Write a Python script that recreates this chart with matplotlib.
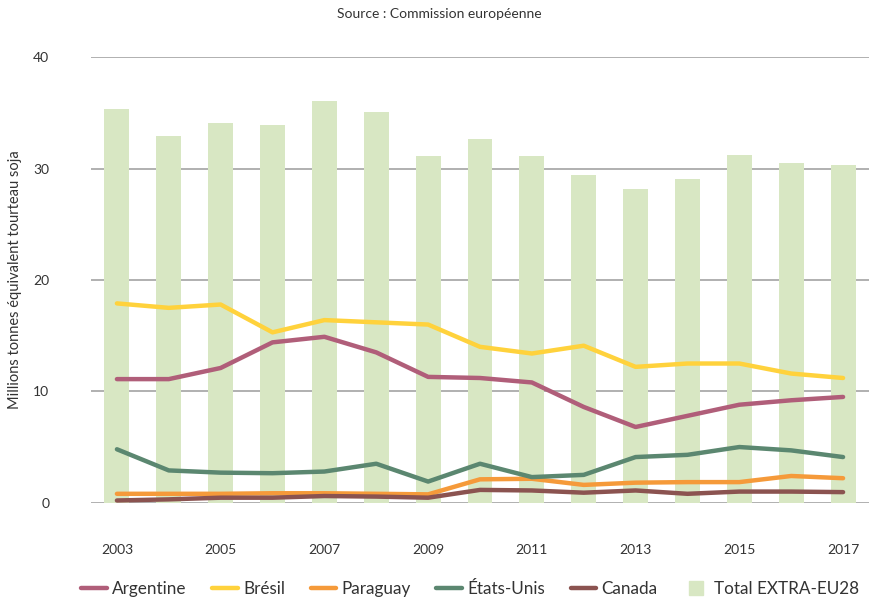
import matplotlib.pyplot as plt
from matplotlib.lines import Line2D
import numpy as np

plt.rcParams['font.family'] = ['Lato', 'DejaVu Sans']

years = list(range(2003, 2018))

# millions de tonnes, équivalent tourteau de soja
total_extra_eu28 = [35.4, 32.9, 34.1, 33.9, 36.1, 35.1, 31.1, 32.7, 31.1, 29.4, 28.2, 29.1, 31.2, 30.5, 30.3]
argentine = [11.1, 11.1, 12.1, 14.4, 14.9, 13.5, 11.3, 11.2, 10.8, 8.6, 6.8, 7.8, 8.8, 9.2, 9.5]
bresil = [17.9, 17.5, 17.8, 15.3, 16.4, 16.2, 16.0, 14.0, 13.4, 14.1, 12.2, 12.5, 12.5, 11.6, 11.2]
paraguay = [0.8, 0.8, 0.8, 0.85, 0.85, 0.8, 0.75, 2.1, 2.15, 1.6, 1.8, 1.85, 1.85, 2.4, 2.2]
etats_unis = [4.8, 2.9, 2.7, 2.65, 2.8, 3.5, 1.9, 3.5, 2.3, 2.5, 4.1, 4.3, 5.0, 4.7, 4.1]
canada = [0.2, 0.3, 0.45, 0.45, 0.6, 0.55, 0.45, 1.15, 1.1, 0.9, 1.1, 0.8, 1.0, 1.0, 0.95]

series = [
    ('Argentine', argentine, '#B05E79'),
    ('Brésil', bresil, '#FFD23C'),
    ('Paraguay', paraguay, '#F59A3A'),
    ('États-Unis', etats_unis, '#5B8770'),
    ('Canada', canada, '#8B5350'),
]
bar_color = '#D8E7C3'

fig = plt.figure(figsize=(8.69, 6.04), dpi=100)
ax = fig.add_axes([0.1047, 0.1677, 0.8953, 0.7374])

x = np.arange(len(years))
ax.bar(x, total_extra_eu28, width=0.48, color=bar_color, zorder=2)

handles = []
for name, vals, col in series:
    ln, = ax.plot(x, vals, color=col, lw=3.2, solid_capstyle='round', solid_joinstyle='round',
                  label=name, zorder=3)
    handles.append(ln)
# small square swatch for the bars
handles.append(Line2D([], [], ls='none', marker='s', markersize=10, color=bar_color,
                      label='Total EXTRA-EU28'))

ax.set_xlim(-0.5, len(years) - 0.5)
ax.set_ylim(0, 40)
ax.set_yticks([0, 10, 20, 30, 40])
ax.yaxis.grid(True, color='#A3A3A3', lw=1.2, zorder=1)
ax.set_axisbelow(True)
ax.set_xticks(x[::2])
ax.set_xticklabels([str(y) for y in years[::2]])
ax.tick_params(length=0, labelsize=10, colors='#333333')
ax.tick_params(axis='x', pad=30)
ax.tick_params(axis='y', pad=30)
for s in ax.spines.values():
    s.set_visible(False)

ax.set_ylabel('Millions tonnes équivalent tourteau soja', fontsize=10.5, color='#333333', labelpad=8)
fig.text(0.506, 0.977, 'Source : Commission européenne', ha='center', va='center',
         fontsize=10, color='#333333')

fig.legend(handles=handles,
           loc='center', bbox_to_anchor=(0.541, 0.025), ncol=6, frameon=False,
           fontsize=12.3, handlelength=1.5, columnspacing=1.5,
           handletextpad=0.3, borderpad=0, labelcolor='#333333')

fig.savefig('out.png', dpi=100)
